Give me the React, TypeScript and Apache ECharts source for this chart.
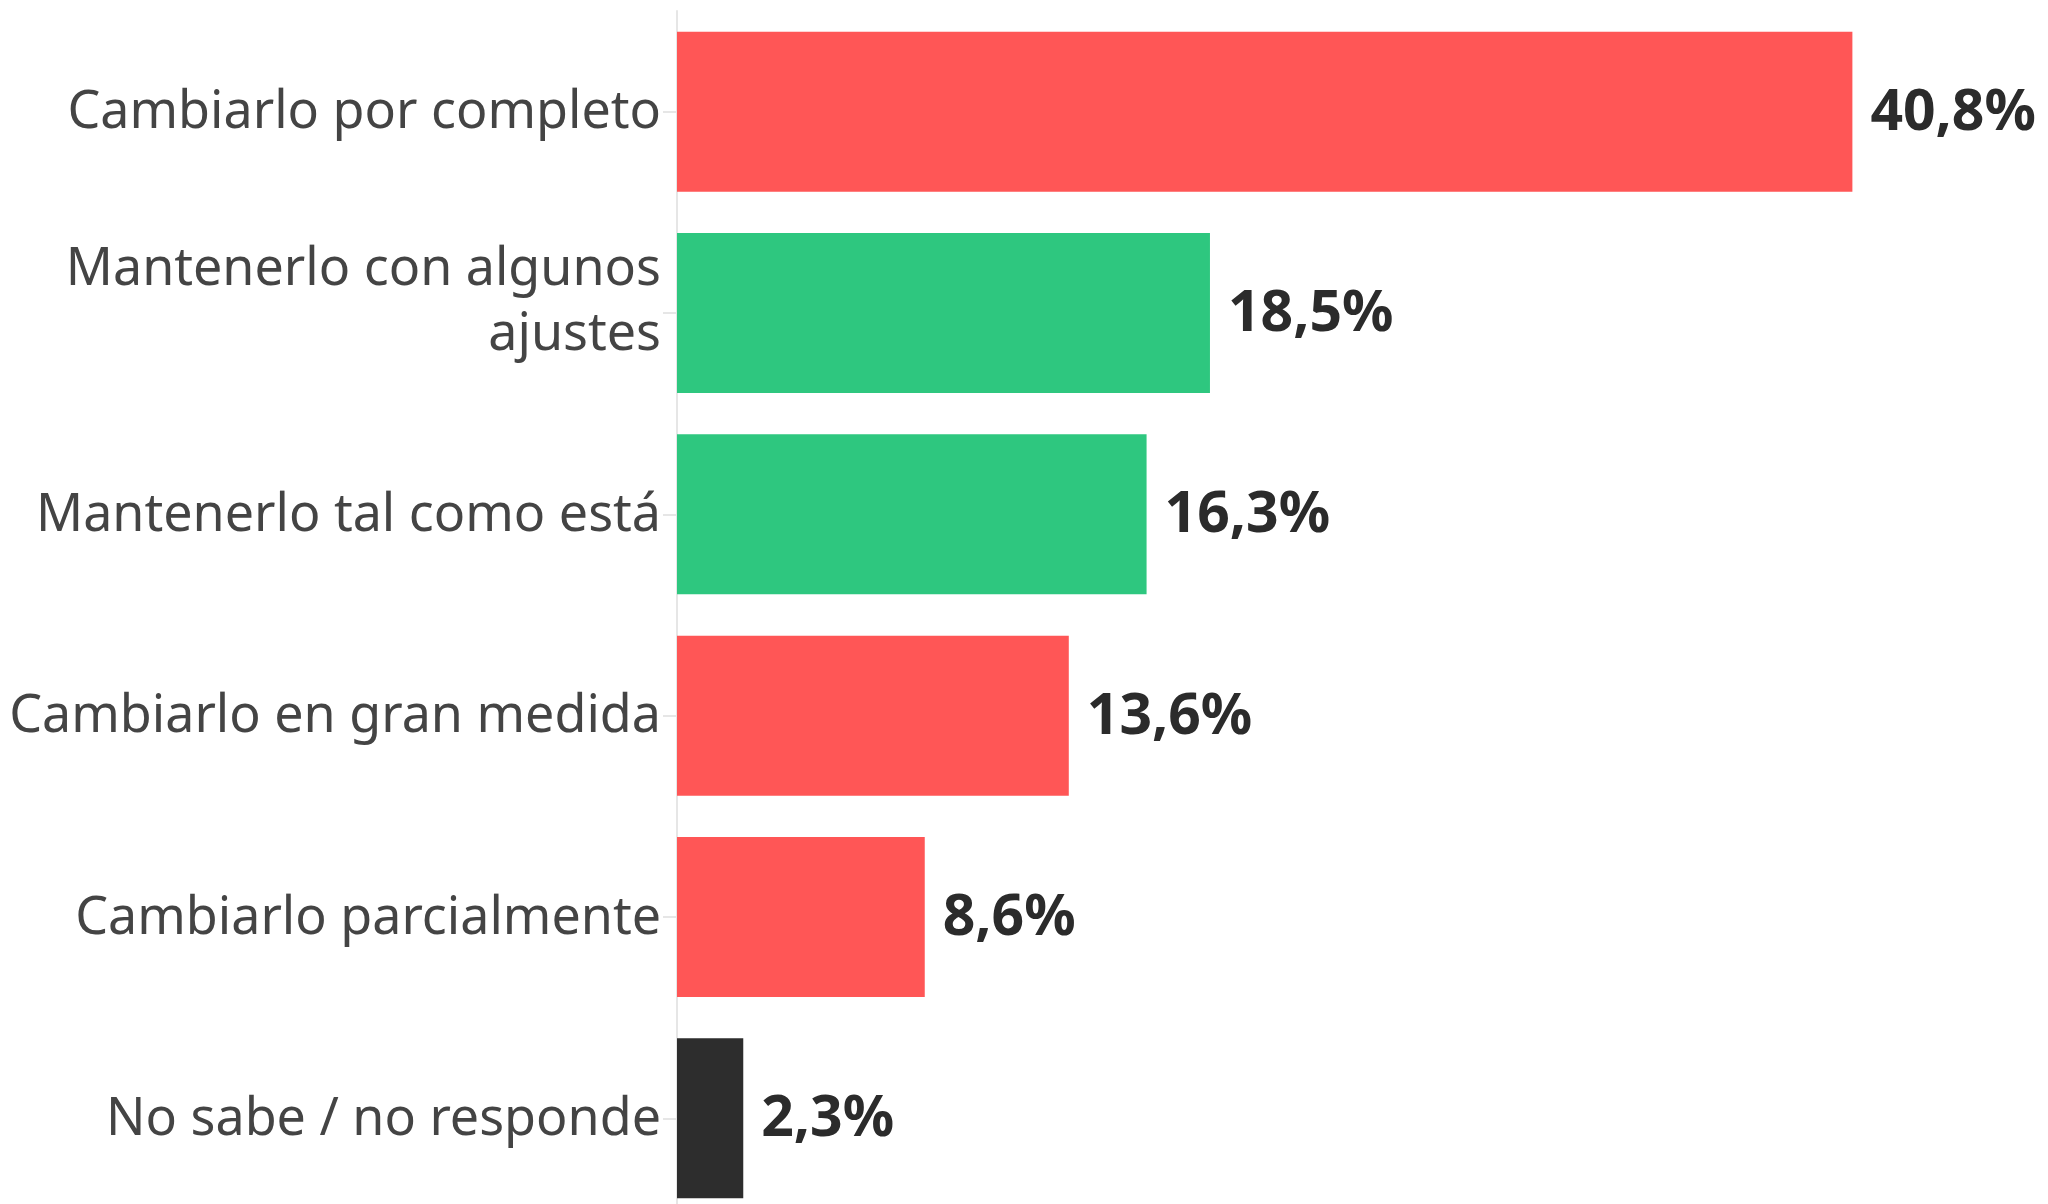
import React, { useEffect, useRef } from "react";
import * as echarts from "echarts";

const categories = [
  "Cambiarlo por completo",
  "Mantenerlo con algunos\najustes",
  "Mantenerlo tal como está",
  "Cambiarlo en gran medida",
  "Cambiarlo parcialmente",
  "No sabe / no responde",
];
const values = [40.8, 18.5, 16.3, 13.6, 8.6, 2.3];
const barColors = ["#FF5656", "#2EC77F", "#2EC77F", "#FF5656", "#FF5656", "#2D2D2D"];

export default function App() {
  const ref = useRef<HTMLDivElement>(null);
  useEffect(() => {
    document.body.style.margin = "0";
    const chart = echarts.init(ref.current!, null, { renderer: "svg" });
    const labelFont = { fontFamily: "Noto Sans", fontSize: 52, lineHeight: 65, color: "#444444" };
    chart.setOption({
      animation: false,
      backgroundColor: "#ffffff",
      grid: {
        left: 677,
        width: 1354,
        top: 11,
        height: 1208,
        containLabel: false,
        outerBoundsMode: "none",
      },
      xAxis: {
        type: "value",
        min: 0,
        max: 47,
        show: false,
        splitLine: { show: false },
      },
      yAxis: {
        type: "category",
        data: categories,
        inverse: true,
        axisLine: { show: true, lineStyle: { color: "#E6E6E6", width: 2 } },
        axisTick: { show: true, alignWithLabel: true, length: 14, lineStyle: { color: "#E6E6E6", width: 2 } },
        axisLabel: {
          margin: 16,
          ...labelFont,
          align: "right",
          padding: [0, 0, 8, 0],
          formatter: (v: string) =>
            v.includes("\n")
              ? v.split("\n").map((l) => `{a|${l}}`).join("\n") + "\n{s| }"
              : `{a|${v}}`,
          rich: {
            a: { ...labelFont },
            s: { fontSize: 10, lineHeight: 24 },
          },
        },
      },
      series: [
        {
          type: "bar",
          data: values.map((v, i) => ({ value: v, itemStyle: { color: barColors[i] } })),
          barWidth: 160,
          label: {
            show: true,
            position: "right",
            distance: 18,
            offset: [0, -4],
            color: "#2B2B2B",
            fontFamily: "Noto Sans",
            fontWeight: "bold",
            fontSize: 57,
            formatter: (p: any) => p.value.toFixed(1).replace(".", ",") + "%",
          },
        },
      ],
    });
    return () => chart.dispose();
  }, []);
  return <div ref={ref} style={{ width: 2048, height: 1204, position: "absolute", left: 0, top: 0 }} />;
}
